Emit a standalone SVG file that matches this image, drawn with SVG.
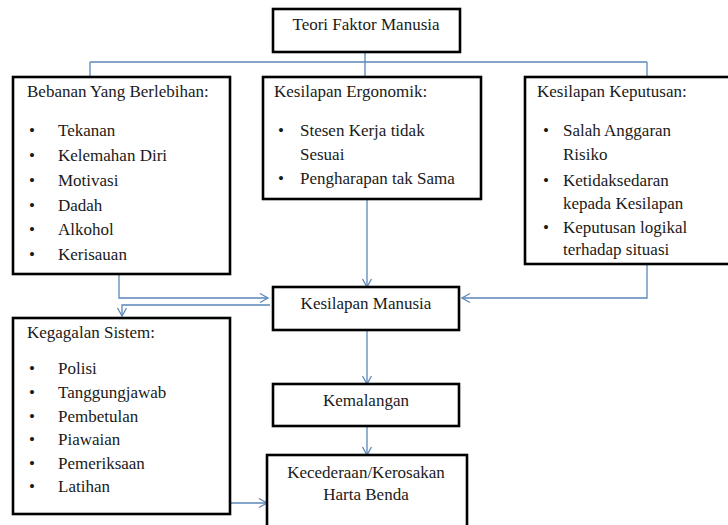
<svg xmlns="http://www.w3.org/2000/svg" width="728" height="525" viewBox="0 0 728 525" font-family="'Liberation Serif', 'Times New Roman', 'DejaVu Serif', serif">
<defs>
<marker id="arr" markerUnits="userSpaceOnUse" markerWidth="12" markerHeight="12" viewBox="0 0 12 12" refX="10" refY="6" orient="auto">
<path d="M2,1.5 L10,6 L2,10.5" fill="none" stroke="#5b87b9" stroke-width="1.3"/>
</marker>
<style>
.box{fill:#fff;stroke:#000;stroke-width:2.6}
.t{font-family:'Liberation Serif','Times New Roman','DejaVu Serif',serif;font-size:17px;fill:#1a1a1a}
.c{text-anchor:middle}
.ln{fill:none;stroke:#5b87b9;stroke-width:1.3}
</style>
</defs>
<rect width="728" height="525" fill="#fff"/>
<g id="connectors">
<path class="ln" d="M365,52 V77"/>
<path class="ln" d="M90,62 H647"/>
<path class="ln" d="M90,62 V77"/>
<path class="ln" d="M647,62 V77"/>
<path class="ln" d="M367,199 V287" marker-end="url(#arr)"/>
<path class="ln" d="M119,274 V298 H268" marker-end="url(#arr)"/>
<path class="ln" d="M270,305 H122 V316" marker-end="url(#arr)"/>
<path class="ln" d="M647,264 V298 H462" marker-end="url(#arr)"/>
<path class="ln" d="M367,330 V384" marker-end="url(#arr)"/>
<path class="ln" d="M367,426 V455" marker-end="url(#arr)"/>
<path class="ln" d="M230,503 H267" marker-end="url(#arr)"/>
</g>
<g id="teori">
<rect class="box" x="273" y="9" width="187" height="43"/>
<text class="t c" x="366" y="30">Teori Faktor Manusia</text>
</g>
<g id="bebanan">
<rect class="box" x="13" y="77" width="217" height="197"/>
<text class="t" x="27" y="97">Bebanan Yang Berlebihan:</text>
<g class="t">
<text x="29" y="136">•</text><text x="58" y="136">Tekanan</text>
<text x="29" y="161">•</text><text x="58" y="161">Kelemahan  Diri</text>
<text x="29" y="186">•</text><text x="58" y="186">Motivasi</text>
<text x="29" y="211">•</text><text x="58" y="211">Dadah</text>
<text x="29" y="235">•</text><text x="58" y="235">Alkohol</text>
<text x="29" y="260">•</text><text x="58" y="260">Kerisauan</text>
</g>
</g>
<g id="ergonomik">
<rect class="box" x="263" y="77" width="218" height="122"/>
<text class="t" x="274" y="97">Kesilapan Ergonomik:</text>
<g class="t">
<text x="278" y="136">•</text><text x="300" y="136">Stesen Kerja tidak</text>
<text x="300" y="160">Sesuai</text>
<text x="278" y="184">•</text><text x="300" y="184">Pengharapan tak Sama</text>
</g>
</g>
<g id="keputusan">
<rect class="box" x="525" y="77" width="210" height="187"/>
<text class="t" x="537" y="97">Kesilapan Keputusan:</text>
<g class="t">
<text x="543" y="136">•</text><text x="563" y="136">Salah Anggaran</text>
<text x="563" y="160">Risiko</text>
<text x="543" y="186">•</text><text x="563" y="186">Ketidaksedaran</text>
<text x="563" y="209">kepada Kesilapan</text>
<text x="543" y="233">•</text><text x="563" y="233">Keputusan logikal</text>
<text x="563" y="255">terhadap situasi</text>
</g>
</g>
<g id="kesilapan-manusia">
<rect class="box" x="273" y="287" width="186" height="43"/>
<text class="t c" x="366" y="309">Kesilapan  Manusia</text>
</g>
<g id="kegagalan">
<rect class="box" x="13" y="318" width="217" height="196"/>
<text class="t" x="27" y="338">Kegagalan  Sistem:</text>
<g class="t">
<text x="29" y="374">•</text><text x="58" y="374">Polisi</text>
<text x="29" y="398">•</text><text x="58" y="398">Tanggungjawab</text>
<text x="29" y="422">•</text><text x="58" y="422">Pembetulan</text>
<text x="29" y="445">•</text><text x="58" y="445">Piawaian</text>
<text x="29" y="469">•</text><text x="58" y="469">Pemeriksaan</text>
<text x="29" y="492">•</text><text x="58" y="492">Latihan</text>
</g>
</g>
<g id="kemalangan">
<rect class="box" x="273" y="384" width="186" height="42"/>
<text class="t c" x="366" y="406">Kemalangan</text>
</g>
<g id="kecederaan">
<rect class="box" x="267" y="455" width="200" height="80"/>
<text class="t c" x="366" y="478">Kecederaan/Kerosakan</text>
<text class="t c" x="366" y="500">Harta Benda</text>
</g>
</svg>
